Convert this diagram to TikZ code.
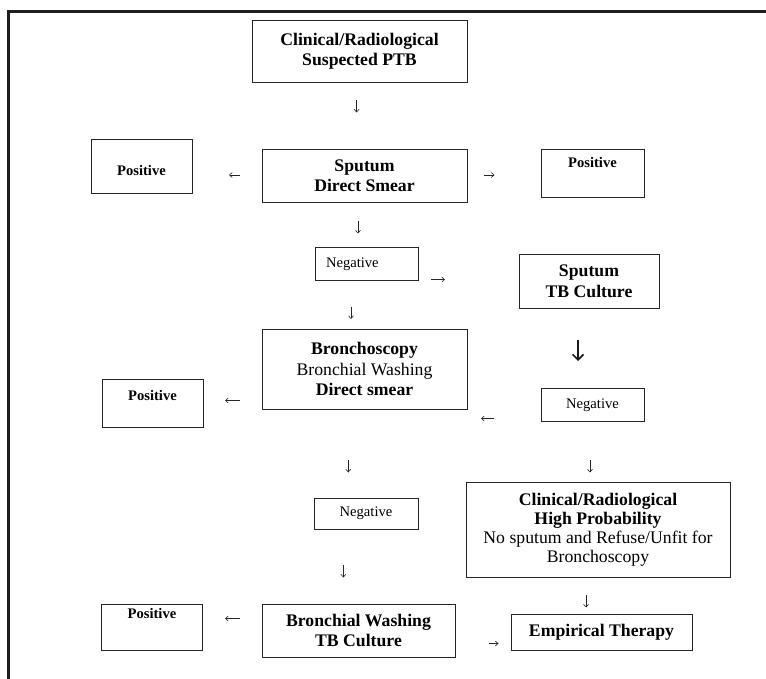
\documentclass[tikz,border=0pt]{standalone}
\usepackage{fontspec}
\setmainfont{Liberation Serif}
\usetikzlibrary{arrows.meta}
\begin{document}
\begin{tikzpicture}[x=1pt,y=-1pt,
  frame/.style={draw=black!88,line width=3pt},
  box/.style={draw=black!85,line width=0.9pt,inner sep=0pt,align=center},
  big/.style={font=\fontsize{17.7pt}{20.5pt}\selectfont},
  small/.style={font=\fontsize{14.6pt}{17pt}\selectfont},
  arr/.style={draw=black!85,line width=0.6pt,-{Straight Barb[length=2.8pt,width=5pt]}},
  boldarr/.style={draw=black!90,line width=1.7pt,-{Straight Barb[length=5.5pt,width=11pt]}}]
\useasboundingbox (0,0) rectangle (766,679);
% outer frame
\draw[frame] (8.5,679) -- (8.5,11.5) -- (766,11.5);
% boxes
\node[box,big,minimum width=215pt,minimum height=62pt] (top) at (359.5,51) {\bfseries Clinical/Radiological\\\bfseries Suspected PTB};
\node[box,small,minimum width=101pt,minimum height=54pt,text height=20pt,text depth=0pt] (posA) at (141.5,166) {\bfseries Positive};
\node[box,big,minimum width=205pt,minimum height=53pt] (sputum) at (364.5,175.5) {\bfseries Sputum\\\bfseries Direct Smear};
\node[box,small,minimum width=103pt,minimum height=48pt,text height=0pt,text depth=10pt] (posB) at (592.5,173) {\bfseries Positive};
\node[box,small,minimum height=33pt,inner xsep=11pt,text width=81pt,align=left,text height=9pt,text depth=0pt] (negA) at (366.5,263.5) {Negative};
\node[box,big,minimum width=140pt,minimum height=54pt] (culture) at (589,281) {\bfseries Sputum\\\bfseries TB Culture};
\node[box,big,minimum width=205pt,minimum height=80pt] (bronch) at (364.5,369) {\bfseries Bronchoscopy\\Bronchial Washing\\\bfseries Direct smear};
\node[box,small,minimum width=101pt,minimum height=48pt,text height=0pt,text depth=6pt] (posC) at (152.5,403) {\bfseries Positive};
\node[box,small,minimum width=103pt,minimum height=33pt,text height=7pt,text depth=0pt] (negB) at (592.5,404.5) {Negative};
\node[box,small,minimum width=104pt,minimum height=31pt,text height=6pt,text depth=0pt] (negC) at (366,513.5) {Negative};
\node[box,font=\fontsize{17.7pt}{19pt}\selectfont,minimum width=264pt,minimum height=95pt] (high) at (598,529.5) {\bfseries Clinical/Radiological\\\bfseries High Probability\\No sputum and Refuse/Unfit for\\Bronchoscopy};
\node[box,small,minimum width=101pt,minimum height=46pt,text height=0pt,text depth=18pt] (posD) at (152,627) {\bfseries Positive};
\node[box,big,minimum width=193pt,minimum height=53pt] (wash) at (358.5,630.5) {\bfseries Bronchial Washing\\\bfseries TB Culture};
\node[box,big,minimum width=181pt,minimum height=36pt] (therapy) at (601.5,632) {\bfseries Empirical Therapy};
% arrow end points
\coordinate (a1s) at (356.6,100);   \coordinate (a1e) at (356.6,112.5);
\coordinate (a2s) at (240,175);     \coordinate (a2e) at (229,175);
\coordinate (a3s) at (483.5,175);   \coordinate (a3e) at (494.5,175);
\coordinate (a4s) at (358,221);     \coordinate (a4e) at (358,233.5);
\coordinate (a5s) at (431,279.5);   \coordinate (a5e) at (445,279.5);
\coordinate (a6s) at (351,306.5);   \coordinate (a6e) at (351,319);
\coordinate (a7s) at (578,340);     \coordinate (a7e) at (578,361);
\coordinate (a8s) at (239.5,400.5); \coordinate (a8e) at (225,400.5);
\coordinate (a9s) at (493.5,418.5); \coordinate (a9e) at (481,418.5);
\coordinate (a10s) at (348.3,460);  \coordinate (a10e) at (348.3,472.5);
\coordinate (a11s) at (590,460);    \coordinate (a11e) at (590,472.5);
\coordinate (a12s) at (343.4,565);  \coordinate (a12e) at (343.4,577.5);
\coordinate (a13s) at (586,595);    \coordinate (a13e) at (586,607.5);
\coordinate (a14s) at (239.5,618.5);\coordinate (a14e) at (225,618.5);
\coordinate (a15s) at (488.5,643.5);\coordinate (a15e) at (498.5,643.5);
% arrows
\draw[arr] (a1s) -- (a1e);
\draw[arr] (a2s) -- (a2e);
\draw[arr] (a3s) -- (a3e);
\draw[arr] (a4s) -- (a4e);
\draw[arr] (a5s) -- (a5e);
\draw[arr] (a6s) -- (a6e);
\draw[boldarr] (a7s) -- (a7e);
\draw[arr] (a8s) -- (a8e);
\draw[arr] (a9s) -- (a9e);
\draw[arr] (a10s) -- (a10e);
\draw[arr] (a11s) -- (a11e);
\draw[arr] (a12s) -- (a12e);
\draw[arr] (a13s) -- (a13e);
\draw[arr] (a14s) -- (a14e);
\draw[arr] (a15s) -- (a15e);
\end{tikzpicture}
\end{document}
